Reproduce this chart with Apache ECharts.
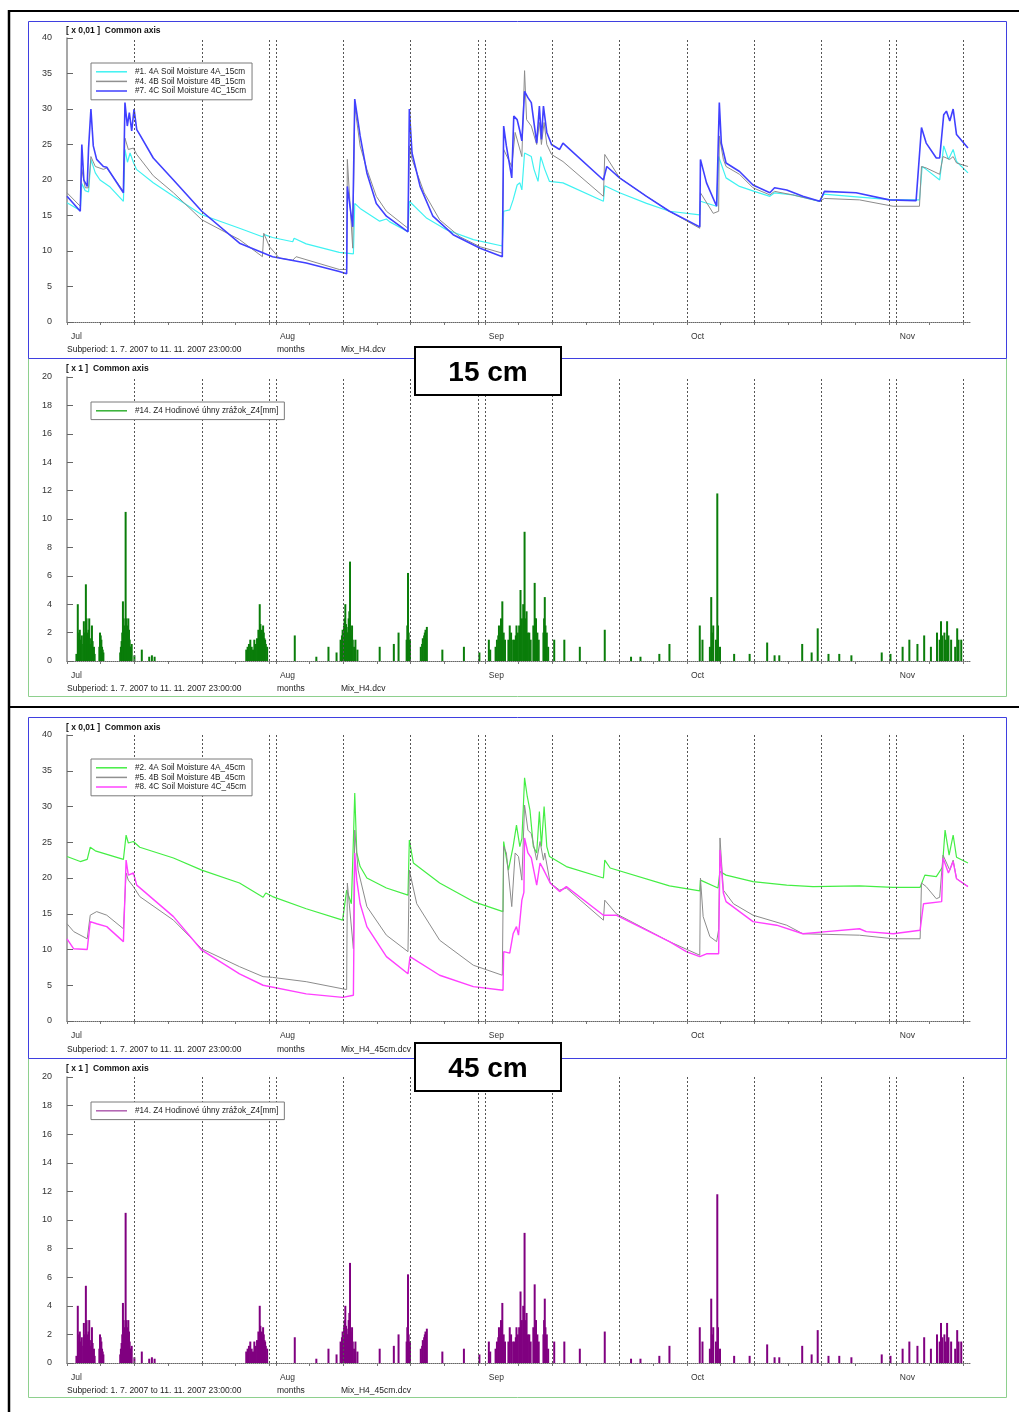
<!DOCTYPE html>
<html>
<head>
<meta charset="utf-8">
<title>Soil moisture and hourly precipitation, 1.7.2007 - 11.11.2007</title>
<script src="https://cdn.jsdelivr.net/npm/echarts@6/dist/echarts.min.js"></script>
<style>
  html, body { margin: 0; padding: 0; background: #fff; }
  #chart { width: 1019px; height: 1412px; }
</style>
</head>
<body>
<div id="chart"></div>
<script>
// Time is counted in days from 1 July 2007 00:00 (end of period = day 134).

// ---- axis tick definitions ----
const monthLabelDays = [0, 31, 62, 92, 123];
const monthNames = ['Jul', 'Aug', 'Sep', 'Oct', 'Nov'];
const gridLineDays = [10, 20, 30, 31, 41, 51, 61, 62, 72, 82, 92, 102, 112, 122, 123, 133];
const minorTickDays = [0, 5, 10, 15, 20, 25, 30, 31, 36, 41, 46, 51, 56, 61, 62, 67, 72, 77, 82, 87,
  92, 97, 102, 107, 112, 117, 122, 123, 128, 133];
const moistureTicks = [0, 5, 10, 15, 20, 25, 30, 35, 40];
const rainTicks = [0, 2, 4, 6, 8, 10, 12, 14, 16, 18, 20];

// ---- series names ----
const name15A = '#1. 4A Soil Moisture 4A_15cm';
const name15B = '#4. 4B Soil Moisture 4B_15cm';
const name15C = '#7. 4C Soil Moisture 4C_15cm';
const name45A = '#2. 4A Soil Moisture 4A_45cm';
const name45B = '#5. 4B Soil Moisture 4B_45cm';
const name45C = '#8. 4C Soil Moisture 4C_45cm';
const nameRain = '#14. Z4 Hodinové úhny zrážok_Z4[mm]';

// ---- soil moisture, 15 cm  [day, value x0.01] ----
const sm15_4A = [[0,16.8],[1.97,15.7],[2.2,19.5],[2.7,18.5],[3.2,18.3],[3.55,22.9],[4.2,21.0],[4.9,20.0],
  [6.4,19.0],[8.37,17.0],[8.6,24.3],[8.97,22.5],[9.36,23.8],[9.85,22.5],[10.3,21.5],[12.8,19.6],[15.8,17.7],
  [20,15.1],[25.6,13.2],[29,12.0],[29.3,12.3],[30.5,11.9],[33.5,11.3],[33.7,11.8],[35.5,11.0],[40.4,9.8],
  [42.5,9.6],[42.7,16.7],[43.5,16.0],[46.4,14.2],[47.4,14.5],[47.9,14.1],[50.6,12.7],[50.8,17.0],[53.4,14.6],
  [56.3,13.0],[60.3,11.6],[64.6,10.7],[64.8,15.6],[65.7,15.8],[66.2,17.2],[66.8,19.3],[67.2,19.6],[67.5,18.6],
  [67.9,23.8],[68.9,23.3],[69.3,21.5],[69.9,19.8],[70.3,23.3],[70.9,21.5],[71.6,19.8],[73.6,19.6],[79.6,17.0],
  [79.8,19.2],[82,18.2],[86,16.7],[89.4,15.6],[93.9,15.1],[94.0,17.0],[96.4,16.3],[96.7,23.3],[97.8,20.3],
  [99.8,19.1],[102,18.4],[104.3,17.7],[105,18.2],[107.7,17.9],[111.7,17.0],[112.3,18.0],[117.6,17.6],
  [122.6,17.2],[126.5,17.2],[126.9,21.9],[127.5,21.5],[129.5,20.0],[130.1,24.8],[130.8,22.9],[131.5,24.3],
  [132,22.6],[133.7,21.0]];
const sm15_4B = [[0,18.2],[1.97,16.3],[2.2,21.5],[2.7,18.9],[3.2,18.9],[3.55,23.3],[4.2,21.9],[5.4,21.5],
  [5.9,21.7],[8.37,18.4],[8.6,25.9],[9.1,24.3],[9.85,24.5],[10.35,23.6],[12.8,20.6],[15.8,18.2],[20,14.4],[25.6,11.6],
  [29,9.2],[29.2,12.5],[30.05,10.6],[31.5,9.0],[33.5,8.7],[34,9.2],[40.4,7.4],[41.5,7.4],[41.6,22.9],
  [42.4,10.4],[42.7,30.4],[43.5,24.8],[44.5,21.5],[45.9,17.7],[47.4,15.6],[50.6,13.2],[50.8,24.8],[51.2,22.9],
  [53,18.2],[55.3,14.4],[58.3,12.0],[61.3,10.6],[64.6,9.7],[64.8,24.3],[66,21.9],[66.5,26.7],[67.5,23.3],
  [67.9,35.4],[68.2,28.5],[68.9,27.6],[69.7,25.0],[70.1,28.1],[70.4,25.0],[70.8,28.1],[71.2,25.0],[71.9,23.6],
  [73.6,22.6],[79.6,17.7],[79.8,23.6],[82,20.3],[86,17.7],[89.4,15.6],[93.9,13.2],[94.0,18.2],[95.9,15.3],
  [96.7,15.6],[96.8,26.2],[97.4,22.9],[97.8,21.9],[99.8,20.8],[101.8,18.9],[104.3,17.9],[105,18.4],
  [107.7,17.9],[111.7,17.0],[112.4,17.4],[117.6,17.2],[122.6,16.3],[126.5,16.3],[126.8,21.9],[127.5,21.7],
  [129.5,20.8],[130,23.3],[131,22.9],[131.5,23.3],[132,22.4],[133.7,21.9]];
const sm15_4C = [[0,17.7],[1.97,15.6],[2.2,25.0],[2.5,20.0],[3.0,19.1],[3.2,24.5],[3.55,30.0],[3.9,24.8],
  [4.4,22.9],[5.4,21.9],[5.9,21.8],[8.37,18.2],[8.6,30.9],[8.95,27.6],[9.25,29.5],[9.6,26.9],[9.95,30.0],
  [10.35,27.1],[10.8,26.4],[12.8,23.1],[15.8,20.0],[20,15.6],[25.6,11.1],[30.5,9.2],[35.5,8.3],[40.4,7.1],[41.5,6.8],[41.6,19.1],
  [42.4,13.4],[42.7,31.4],[43.5,26.2],[44.5,21.0],[45.9,16.7],[47.4,14.9],[50.6,12.7],[50.8,30.0],[51.2,23.8],
  [52.4,19.1],[54.3,14.9],[57.3,12.3],[61.3,10.4],[64.6,9.2],[64.8,27.6],[65.2,24.8],[66.0,20.3],[66.3,29.0],
  [66.8,28.5],[67.2,26.9],[67.5,25.5],[67.9,32.5],[68.4,31.6],[68.9,30.9],[69.7,25.2],[70.1,30.4],[70.4,25.7],
  [70.7,30.4],[71.2,26.7],[71.9,25.0],[73.1,24.3],[73.6,25.2],[79.6,20.0],[80.1,21.9],[82,20.3],[86,17.7],
  [89.4,15.6],[93.9,13.4],[94.0,22.9],[94.9,19.6],[96.4,16.3],[96.8,30.9],[97.1,25.2],[97.8,22.4],[99.8,21.2],
  [101.8,19.3],[104.3,18.2],[105,18.9],[106.8,18.6],[109.2,17.7],[111.7,17.0],[112.4,18.4],[117.1,18.2],
  [122,17.2],[126,17.1],[126.8,27.4],[127.5,25.2],[129,23.1],[129.5,23.1],[130.1,29.2],[130.5,29.7],[131,28.3],
  [131.5,30.0],[132,26.4],[133.7,24.5]];

// ---- soil moisture, 45 cm  [day, value x0.01] ----
const sm45_4A = [[0,23.0],[1.97,22.3],[3.0,22.6],[3.45,24.3],[4.2,23.8],[8.37,22.6],[8.77,26.0],[9.1,24.9],
  [9.85,25.1],[10.8,24.3],[15.8,22.8],[20,21.1],[25.6,19.3],[29.1,17.3],[29.5,17.9],[30.5,17.4],[35.5,15.7],
  [40.9,14.1],[41.5,18.3],[42.2,16.4],[42.5,25.3],[42.7,31.9],[43.0,23.5],[43.5,21.6],[44.5,20.0],[47.4,18.6],
  [50.6,17.6],[50.8,25.3],[51.4,22.1],[55.3,19.3],[60.3,16.7],[64.7,15.3],[64.8,25.1],[65.5,21.1],[66.2,24.4],
  [66.7,27.4],[67.2,24.4],[67.5,25.5],[67.7,29.5],[67.9,34.0],[68.3,31.4],[68.7,29.5],[69.2,24.4],[69.7,23.5],
  [70.1,29.3],[70.4,24.4],[70.8,30.0],[71.2,24.4],[71.6,23.0],[74.1,21.6],[79.6,20.0],[79.8,22.5],[80.6,21.4],
  [89.4,18.9],[93.9,18.2],[94.0,19.7],[96.6,18.6],[96.9,20.9],[97.8,20.4],[101.8,19.5],[106.8,19.0],
  [110.7,18.8],[117.6,18.9],[122.6,18.7],[126.6,18.7],[127.3,20.4],[129.0,20.2],[129.9,21.5],[130.3,26.7],
  [130.9,23.2],[131.5,26.0],[132.0,22.9],[133.7,22.1]];
const sm45_4B = [[0,13.6],[1,12.5],[3.0,11.5],[3.45,14.8],[4.4,15.3],[5.9,14.8],[8.37,12.9],[8.77,20.7],
  [9.1,19.7],[9.85,18.8],[10.8,17.4],[15.8,14.1],[20,10.1],[25.6,7.6],[29.1,6.2],[30.5,6.1],[35.5,5.5],
  [40.9,4.5],[41.5,4.4],[41.6,19.3],[42.5,10.1],[42.7,26.7],[43.2,21.1],[44.5,16.0],[47.4,12.0],[50.6,9.7],
  [50.8,21.1],[51.9,16.4],[55.3,11.3],[60.3,7.8],[64.6,6.4],[64.8,24.4],[65.2,23.5],[66,16.0],[66.5,23.5],
  [67.0,23.0],[67.5,19.7],[67.9,30.2],[68.4,26.7],[68.9,26.2],[69.7,22.5],[70.2,25.1],[70.7,22.5],[70.9,23.5],
  [71.7,19.3],[73.1,18.3],[74.1,18.6],[79.6,14.1],[79.8,16.9],[81.5,15.0],[89.4,11.1],[93.9,9.2],[94.0,20.0],
  [94.4,14.6],[95.4,11.8],[96.4,11.1],[96.7,12.8],[96.9,25.6],[97.4,18.3],[98.9,16.4],[101.8,14.8],
  [106.8,13.4],[109.2,12.2],[117.6,12.0],[122.6,11.5],[126.6,11.5],[126.8,19.3],[127.5,18.8],[129,17.1],
  [129.5,17.3],[130,23.2],[131,21.1],[131.5,22.5],[132,19.9],[133.7,18.8]];
const sm45_4C = [[0,11.5],[1.0,10.1],[3.0,10.0],[3.45,13.9],[4.4,13.6],[5.9,13.2],[8.37,11.1],[8.77,22.5],
  [9.1,20.4],[9.85,20.7],[10.35,19.0],[15.8,14.6],[20,9.9],[25.6,6.6],[29.1,5.0],[35.5,3.8],[40.9,3.3],
  [42.5,3.6],[42.7,23.5],[43.0,19.7],[43.5,16.4],[44.5,13.2],[47.4,9.0],[50.6,6.6],[50.9,9.0],[55.3,6.4],
  [60.3,4.8],[64.7,4.3],[64.8,9.7],[65.7,9.5],[66.2,12.2],[66.7,13.2],[67.0,12.0],[67.5,16.9],[67.8,18.0],
  [67.9,25.6],[68.4,23.5],[68.9,22.8],[69.7,19.0],[70.2,22.1],[70.7,21.2],[71.7,19.3],[73.1,18.1],[74.1,18.8],
  [79.6,14.8],[81.5,14.8],[89.4,11.1],[91.9,9.7],[93.9,9.0],[94.9,9.4],[96.7,9.4],[96.9,23.9],[97.4,17.9],
  [97.8,16.7],[101.8,13.9],[105.3,13.4],[109.2,12.2],[112.7,12.5],[117.6,12.9],[118.6,12.5],[122.6,12.2],
  [126.6,12.7],[127.1,16.4],[129.8,16.7],[130.0,22.8],[130.8,20.7],[131.5,22.3],[132,19.9],[133.7,18.8]];

// ---- hourly precipitation totals [day, mm] ----
const rainZ4 = [
  [1.4,0.5],[1.6,4.0],[1.7,1.5],[1.8,2.0],[1.9,2.2],[2.0,1.5],[2.1,1.0],[2.2,1.8],[2.4,1.2],[2.5,2.8],[2.6,2.0],
  [2.7,1.5],[2.8,5.4],[2.9,3.0],[3.0,2.0],[3.1,1.8],[3.2,2.2],[3.3,3.0],[3.4,1.6],[3.5,1.2],[3.6,1.0],[3.7,2.5],
  [3.8,1.4],[4.0,1.0],[4.1,0.5],[4.8,1.0],[4.9,2.0],[5.0,1.8],[5.1,1.5],[5.2,1.0],[5.3,0.8],[5.4,0.6],
  [7.9,0.6],[8.0,1.0],[8.1,1.4],[8.2,2.0],[8.3,4.2],[8.4,3.0],[8.5,2.5],[8.6,2.0],[8.7,10.5],[8.8,3.0],[8.9,2.5],
  [9.0,2.0],[9.1,3.0],[9.2,2.2],[9.3,1.5],[9.4,1.0],[9.5,1.0],[9.6,1.2],[10.0,0.4],[11.1,0.8],[12.2,0.3],[12.6,0.4],[13.0,0.3],
  [26.6,0.8],[26.8,1.0],[27.0,1.2],[27.2,1.5],[27.4,1.0],[27.6,0.8],[27.8,1.5],[28.0,1.2],[28.2,1.6],[28.4,2.2],
  [28.6,4.0],[28.7,2.6],[28.8,2.0],[28.9,2.2],[29.0,1.8],[29.1,2.5],[29.2,2.0],[29.3,1.6],[29.4,1.5],[29.5,1.2],[29.7,1.0],
  [33.8,1.8],[37.0,0.3],[38.8,1.0],[40.0,0.6],
  [40.6,1.5],[40.7,1.0],[40.8,1.8],[40.9,2.2],[41.0,1.5],[41.1,2.5],[41.2,3.0],[41.3,4.0],[41.4,2.6],[41.5,2.4],
  [41.6,2.0],[41.7,2.0],[41.8,3.0],[41.9,3.5],[42.0,7.0],[42.1,2.2],[42.2,1.8],[42.3,2.5],[42.4,1.5],[42.6,1.0],
  [42.8,1.5],[43.1,0.8],[46.4,1.0],[48.5,1.2],[49.2,2.0],
  [50.4,1.5],[50.5,2.5],[50.6,6.2],[50.7,2.0],[50.9,1.5],[52.5,1.0],[52.7,1.2],[52.8,1.6],[53.0,1.8],[53.1,2.0],
  [53.2,2.2],[53.3,1.6],[53.4,2.4],[55.7,0.8],[58.9,1.0],[61.2,0.6],
  [62.6,1.5],[62.8,0.8],[63.6,1.0],[63.8,1.5],[64.0,1.8],[64.1,2.5],[64.3,2.0],[64.4,3.0],[64.5,2.2],[64.6,4.2],
  [64.8,2.0],[65.0,1.5],[65.5,1.5],[65.7,2.5],[65.9,2.0],[66.2,1.5],[66.4,1.5],[66.6,1.8],[66.7,2.5],[66.9,2.0],
  [67.1,2.5],[67.3,5.0],[67.5,3.0],[67.7,4.0],[67.9,9.1],[68.0,3.0],[68.2,3.5],[68.4,2.0],[68.6,2.0],[68.8,1.5],
  [69.2,2.5],[69.4,5.5],[69.5,3.0],[69.6,3.0],[69.8,2.0],[70.0,1.5],[70.7,2.0],[70.8,3.0],[70.9,4.5],[71.0,2.5],
  [71.2,2.0],[71.4,1.0],[72.3,1.5],[73.8,1.5],[76.1,1.0],[79.8,2.2],[83.7,0.3],[85.1,0.3],[87.9,0.5],[89.4,1.2],
  [93.9,2.5],[94.3,1.5],[95.4,1.0],[95.6,4.5],[95.7,2.0],[95.9,2.5],[96.3,1.5],[96.5,11.8],[96.6,2.5],[96.9,1.0],
  [99.0,0.5],[101.3,0.5],[103.9,1.3],[105.0,0.4],[105.7,0.4],[109.1,1.2],[110.5,0.6],[111.4,2.3],
  [113.0,0.5],[114.6,0.5],[116.4,0.4],[120.9,0.6],[122.2,0.5],[124.0,1.0],[125.0,1.5],[126.2,1.2],[127.2,1.8],
  [128.2,1.0],[129.1,2.0],[129.5,1.5],[129.7,2.8],[129.9,1.8],[130.2,2.0],[130.4,1.5],[130.6,2.8],[130.8,1.8],
  [131.2,1.5],[131.8,1.0],[132.1,2.3],[132.3,1.5],[132.7,1.5]];

// ---- layout ----
const FONT = '"Liberation Sans", Arial, sans-serif';
const PLOT_LEFT = 67, PLOT_WIDTH = 903;
const grids = [
  { top: 38, height: 284 },   // soil moisture 15 cm
  { top: 377, height: 284 },  // precipitation (15 cm block)
  { top: 735, height: 286 },  // soil moisture 45 cm
  { top: 1077, height: 286 }  // precipitation (45 cm block)
];

const chart = echarts.init(document.getElementById('chart'), null, { renderer: 'canvas' });

function xAxisFor(i) {
  return {
    type: 'value', gridIndex: i, min: 0, max: 134,
    axisLine: { show: true, onZero: true, lineStyle: { color: '#666', type: 'dotted', width: 1 } },
    axisTick: { show: true, customValues: minorTickDays, length: 3, lineStyle: { color: '#777' } },
    axisLabel: {
      show: true, customValues: monthLabelDays, margin: 10, align: 'left', padding: [0, 0, 0, 4],
      fontSize: 8.5, color: '#333', fontFamily: FONT,
      formatter: v => monthNames[monthLabelDays.indexOf(Math.round(v))] || ''
    },
    splitLine: { show: false }
  };
}
function yAxisFor(i, ticks) {
  const max = ticks[ticks.length - 1];
  return {
    type: 'value', gridIndex: i, min: 0, max: max, interval: ticks[1] - ticks[0],
    axisLine: { show: true, lineStyle: { color: '#8a8a8a', width: 1.5 } },
    axisTick: { show: true, inside: true, length: 6, lineStyle: { color: '#666', width: 1 } },
    axisLabel: { margin: 15, fontSize: 9, color: '#333', fontFamily: FONT },
    splitLine: { show: false }
  };
}
function gridLines() {
  return {
    silent: true, symbol: 'none', animation: false,
    label: { show: false },
    lineStyle: { color: '#555', type: [2, 2], width: 1 },
    emphasis: { disabled: true },
    data: gridLineDays.map(d => ({ xAxis: d }))
  };
}
function moistureSeries(name, data, color, width, gi, withGrid) {
  const s = {
    name, type: 'line', data, xAxisIndex: gi, yAxisIndex: gi, color,
    symbol: 'none', showSymbol: false, animation: false,
    lineStyle: { color, width }, emphasis: { disabled: true }
  };
  if (withGrid) s.markLine = gridLines();
  return s;
}
function rainSeries(data, color, gi) {
  return {
    name: nameRain, type: 'bar', data, xAxisIndex: gi, yAxisIndex: gi, color,
    barWidth: 2, barGap: '-100%', animation: false,
    itemStyle: { color }, emphasis: { disabled: true },
    markLine: gridLines()
  };
}
function legendFor(top, names, colors) {
  return {
    left: 91, top, orient: 'vertical', icon: 'rect', itemWidth: 31, itemHeight: 1.5, itemGap: 0,
    padding: [4, 6, 4, 5], borderColor: '#7a7a7a', borderWidth: 1, backgroundColor: '#fff',
    selectedMode: false, z: 20,
    textStyle: { fontSize: 8.2, lineHeight: 9.6, color: '#222', fontFamily: FONT, padding: [0, 0, 0, 3] },
    data: names.map((n, k) => ({ name: n, itemStyle: { color: colors[k] } }))
  };
}

// static texts and frames
function panelTexts(yTitle, titleText, yFoot, fileName) {
  return [
    { type: 'text', left: 66, top: yTitle, style: { text: titleText, font: 'bold 8.5px ' + FONT, fill: '#111' } },
    { type: 'text', left: 67, top: yFoot, style: { text: 'Subperiod: 1. 7. 2007 to 11. 11. 2007 23:00:00', font: '8.5px ' + FONT, fill: '#222' } },
    { type: 'text', left: 277, top: yFoot, style: { text: 'months', font: '8.5px ' + FONT, fill: '#222' } },
    { type: 'text', left: 341, top: yFoot, style: { text: fileName, font: '8.5px ' + FONT, fill: '#222' } }
  ];
}
function depthBox(y, label) {
  return [
    { type: 'rect', shape: { x: 415, y, width: 146, height: 48 }, style: { fill: '#fff', stroke: '#000', lineWidth: 2 }, z: 100 },
    { type: 'text', x: 488, y: y + 26, style: { text: label, font: 'bold 28px ' + FONT, fill: '#000', align: 'center', verticalAlign: 'middle' }, z: 101 }
  ];
}

const graphics = [].concat(
  // outer frame
  [
    { type: 'line', shape: { x1: 9, y1: 11, x2: 1019, y2: 11 }, style: { stroke: '#000', lineWidth: 2 } },
    { type: 'line', shape: { x1: 9, y1: 10, x2: 9, y2: 1412 }, style: { stroke: '#000', lineWidth: 2.5 } },
    { type: 'line', shape: { x1: 9, y1: 707, x2: 1019, y2: 707 }, style: { stroke: '#000', lineWidth: 2 } },
    // panel borders (rain panels first so the blue edge stays on top)
    { type: 'rect', shape: { x: 28.5, y: 358.5, width: 978, height: 338 }, style: { fill: 'none', stroke: '#8ed08e', lineWidth: 1 } },
    { type: 'rect', shape: { x: 28.5, y: 21.5, width: 978, height: 337 }, style: { fill: 'none', stroke: '#3f3fe0', lineWidth: 1 } },
    { type: 'rect', shape: { x: 28.5, y: 1058.5, width: 978, height: 339 }, style: { fill: 'none', stroke: '#8ed08e', lineWidth: 1 } },
    { type: 'rect', shape: { x: 28.5, y: 717.5, width: 978, height: 341 }, style: { fill: 'none', stroke: '#3f3fe0', lineWidth: 1 } }
  ],
  panelTexts(26, '[ x 0,01 ]  Common axis', 345, 'Mix_H4.dcv'),
  panelTexts(364, '[ x 1 ]  Common axis', 684, 'Mix_H4.dcv'),
  panelTexts(723, '[ x 0,01 ]  Common axis', 1045, 'Mix_H4_45cm.dcv'),
  panelTexts(1064, '[ x 1 ]  Common axis', 1386, 'Mix_H4_45cm.dcv'),
  depthBox(347, '15 cm'),
  depthBox(1043, '45 cm')
);

const option = {
  backgroundColor: '#fff',
  animation: false,
  textStyle: { fontFamily: FONT },
  grid: grids.map(g => ({ left: PLOT_LEFT, width: PLOT_WIDTH, top: g.top, height: g.height, outerBoundsMode: 'none', containLabel: false })),
  xAxis: [0, 1, 2, 3].map(xAxisFor),
  yAxis: [yAxisFor(0, moistureTicks), yAxisFor(1, rainTicks), yAxisFor(2, moistureTicks), yAxisFor(3, rainTicks)],
  legend: [
    legendFor(63, [name15A, name15B, name15C], ['#3ff2f2', '#909090', '#4040ff']),
    legendFor(402, [nameRain], ['#33b033']),
    legendFor(759, [name45A, name45B, name45C], ['#44ee44', '#909090', '#ff44ff']),
    legendFor(1102, [nameRain], ['#b060b0'])
  ],
  series: [
    moistureSeries(name15A, sm15_4A, '#3ff2f2', 1.2, 0, true),
    moistureSeries(name15B, sm15_4B, '#8c8c8c', 1, 0, false),
    moistureSeries(name15C, sm15_4C, '#4040ff', 1.6, 0, false),
    rainSeries(rainZ4, '#0a7d0a', 1),
    moistureSeries(name45A, sm45_4A, '#44ee44', 1.2, 2, true),
    moistureSeries(name45B, sm45_4B, '#8c8c8c', 1, 2, false),
    moistureSeries(name45C, sm45_4C, '#ff40ff', 1.4, 2, false),
    rainSeries(rainZ4, '#800080', 3)
  ],
  graphic: graphics
};
chart.setOption(option);
</script>
</body>
</html>
